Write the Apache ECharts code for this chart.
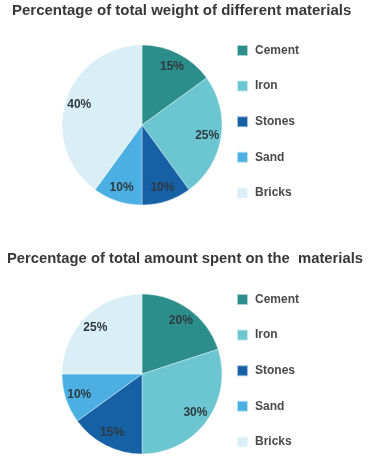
<!DOCTYPE html>
<html><head><meta charset="utf-8">
<script src="https://cdn.jsdelivr.net/npm/echarts@6/dist/echarts.min.js"></script>
<style>html,body{margin:0;padding:0;background:#fff}#c{width:368px;height:469px}</style>
</head><body><div id="c"></div>
<script>
const categories = ['Cement', 'Iron', 'Stones', 'Sand', 'Bricks'];
const weightValues = [15, 25, 10, 10, 40];
const spendValues = [20, 30, 15, 10, 25];
const titles = ['Percentage of total weight of different materials', 'Percentage of total amount spent on the  materials'];
const colors = ['#2b8e8b', '#6cc6d1', '#1660a6', '#4cafe3', '#daeef6'];

const chart = echarts.init(document.getElementById('c'), null, {renderer: 'canvas'});
const font = 'Liberation Sans, Arial, sans-serif';
function mk(vals) { return categories.map((n, i) => ({name: n, value: vals[i]})); }
function pieBase(vals, cy) {
  return {
    type: 'pie', center: [142, cy], radius: [0, 80], startAngle: 90, clockwise: true,
    data: mk(vals), label: {show: false}, labelLine: {show: false},
    itemStyle: {borderColor: 'rgba(255,255,255,0.6)', borderWidth: 0.6},
    emphasis: {disabled: true}, animation: false
  };
}
function pieLabels(vals, cy) {
  return {
    type: 'pie', center: [142, cy], radius: [46, 80], startAngle: 90, clockwise: true, silent: true,
    data: mk(vals), itemStyle: {color: 'rgba(0,0,0,0)'},
    label: {show: true, position: 'inside', formatter: '{c}%', color: '#2f3a40', fontSize: 12, fontWeight: 'bold', fontFamily: font},
    labelLine: {show: false}, emphasis: {disabled: true}, animation: false
  };
}
function legend(top) {
  return {
    orient: 'vertical', left: 231, top: top, itemWidth: 11, itemHeight: 11, itemGap: 22.6,
    icon: 'rect', data: categories, selectedMode: false,
    textStyle: {fontSize: 12, fontWeight: 'bold', color: '#4a4a4a', fontFamily: font, padding: [0, 0, 0, 2]}
  };
}
chart.setOption({
  color: colors,
  animation: false,
  title: [
    {text: titles[0], left: 7, top: -2, textStyle: {fontSize: 15, fontWeight: 'bold', color: '#383838', fontFamily: font}},
    {text: titles[1], left: 2, top: 246, textStyle: {fontSize: 14.8, fontWeight: 'bold', color: '#383838', fontFamily: font}}
  ],
  legend: [legend(39), legend(288)],
  series: [pieBase(weightValues, 125), pieLabels(weightValues, 125), pieBase(spendValues, 374), pieLabels(spendValues, 374)]
});
</script></body></html>
